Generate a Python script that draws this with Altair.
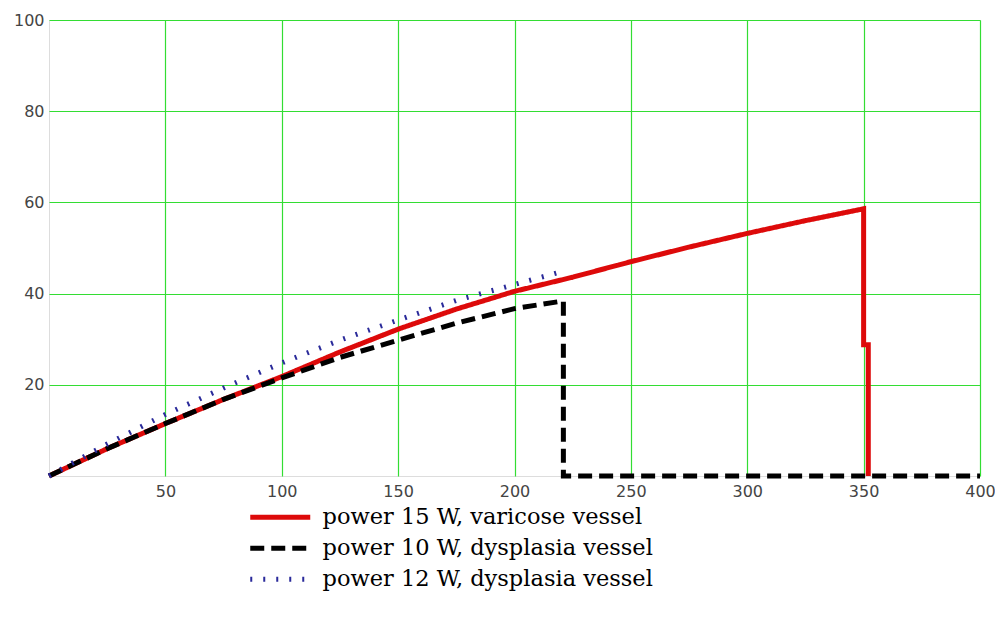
import altair as alt
import pandas as pd

# ---- data ----
series_names = [
    "power 15 W, varicose vessel",
    "power 10 W, dysplasia vessel",
    "power 12 W, dysplasia vessel",
]

red_x = [0, 25, 50, 75, 100, 125, 150, 175, 200, 225, 250, 275, 300, 325, 350, 350, 352, 352]
red_y = [0, 6, 11.5, 16.8, 21.8, 27.2, 32.2, 36.6, 40.5, 43.6, 47.0, 50.2, 53.2, 56.0, 58.6, 28.8, 28.8, 0]

black_x = [0, 25, 50, 75, 100, 125, 150, 175, 200, 221, 221, 400]
black_y = [0, 6, 11.5, 16.8, 21.5, 26.0, 29.8, 33.5, 36.7, 38.4, 0, 0]

blue_x = [0, 25, 50, 75, 100, 125, 150, 175, 200, 218]
blue_y = [0, 7, 13.5, 19.3, 24.8, 29.8, 34.2, 38.5, 42.0, 44.5]

x_ticks = [50, 100, 150, 200, 250, 300, 350, 400]
y_ticks = [20, 40, 60, 80, 100]

colors = ["#dd0a0a", "#000000", "#2a2a9a"]
dashes = [[1, 0], [14, 7], [2, 11]]
widths = [5, 5, 2.5]

rows = []
for name, xs, ys in zip(series_names, [red_x, black_x, blue_x], [red_y, black_y, blue_y]):
    for i, (xv, yv) in enumerate(zip(xs, ys)):
        rows.append({"x": xv, "y": yv, "series": name, "i": i})
df = pd.DataFrame(rows)

grid_green = "#33dd33"
tick_font = "DejaVu Sans"


def make_legend():
    return alt.Legend(title=None, orient="none", legendX=220, legendY=486,
                      symbolType="M-4,0L4,0", symbolSize=225,
                      labelFont="DejaVu Serif", labelFontSize=22.5, labelLimit=0,
                      labelColor="#000", labelOffset=31, padding=0,
                      rowPadding=8)


chart = alt.Chart(df).mark_line(clip=False).encode(
    x=alt.X("x:Q", scale=alt.Scale(domain=[0, 400], nice=False, zero=False),
            axis=alt.Axis(values=x_ticks, title=None, grid=True, gridColor=grid_green,
                          gridWidth=1.2, domain=False, ticks=False, labelFont=tick_font,
                          labelFontSize=16, labelColor="#444", labelPadding=7,
                          labelFlush=False)),
    y=alt.Y("y:Q", scale=alt.Scale(domain=[0, 100], nice=False, zero=False),
            axis=alt.Axis(values=y_ticks, title=None, grid=True, gridColor=grid_green,
                          gridWidth=1.2, domain=False, ticks=False, labelFont=tick_font,
                          labelFontSize=16, labelColor="#444", labelPadding=5,
                          labelFlush=False)),
    color=alt.Color("series:N", scale=alt.Scale(domain=series_names, range=colors),
                    legend=make_legend()),
    strokeDash=alt.StrokeDash("series:N", scale=alt.Scale(domain=series_names, range=dashes),
                              legend=make_legend()),
    strokeWidth=alt.StrokeWidth("series:N", scale=alt.Scale(domain=series_names, range=widths),
                                legend=make_legend()),
    order="i:Q",
).properties(
    width=931,
    height=456,
    autosize=alt.AutoSizeParams(type="none"),
    padding={"left": 41, "top": 12, "right": 15, "bottom": 130},
).configure_view(
    stroke="#222", strokeWidth=1.5
).configure(background="white")

chart.save("out.html", embed_options={"renderer": "svg", "actions": False})
